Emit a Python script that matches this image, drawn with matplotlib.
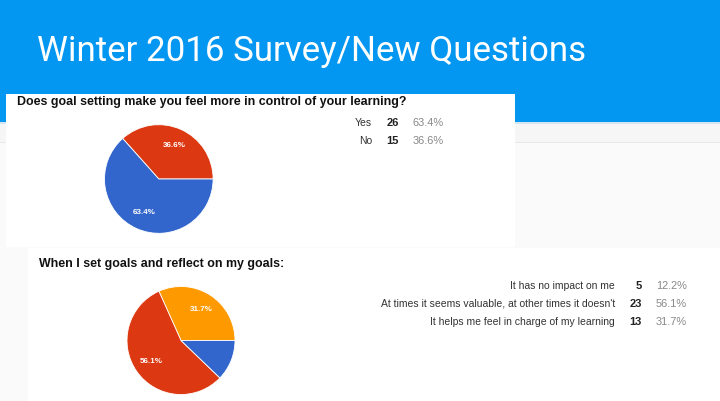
import matplotlib
matplotlib.use("Agg")
import matplotlib.pyplot as plt
from matplotlib.patches import Rectangle

# ---- data ----
title = "Winter 2016 Survey/New Questions"

q1_title = "Does goal setting make you feel more in control of your learning?"
q1_labels = ["Yes", "No"]
q1_counts = [26, 15]
q1_pcts = ["63.4%", "36.6%"]
q1_colors = ["#3366CC", "#DC3912"]

q2_title = "When I set goals and reflect on my goals:"
q2_labels = ["It has no impact on me",
             "At times it seems valuable, at other times it doesn't",
             "It helps me feel in charge of my learning"]
q2_counts = [5, 23, 13]
q2_pcts = ["12.2%", "56.1%", "31.7%"]
q2_colors = ["#3366CC", "#DC3912", "#FF9900"]

W, H = 720, 401
fig = plt.figure(figsize=(W / 100, H / 100), dpi=100)
bg = fig.add_axes([0, 0, 1, 1])
bg.set_xlim(0, W)
bg.set_ylim(H, 0)
bg.axis("off")

def rect(x0, y0, x1, y1, color, z=0):
    bg.add_patch(Rectangle((x0, y0), x1 - x0, y1 - y0, facecolor=color,
                           edgecolor="none", zorder=z))

# page background
rect(0, 0, W, H, "#fafafa", 0)
rect(0, 122, W, 142, "#f6f6f6", 1)
bg.plot([0, W], [142, 142], color="#e8e8e8", lw=0.7, zorder=1.5)
rect(0, 0, W, 122, "#0497F1", 2)
rect(0, 122, W, 123.5, "#d5e6f0", 1.8)
# panels
rect(6, 94, 515, 247, "white", 3)
rect(28, 248, W, H, "white", 3)

bg.text(37, 61, title, fontsize=25.1, color="white", family="Roboto",
        fontweight="normal", va="baseline", ha="left", zorder=5)

FF = ["Liberation Sans", "DejaVu Sans"]

bg.text(17, 101.5, q1_title, fontsize=8.9, fontweight="bold", family=FF,
        color="#111111", va="center", ha="left", zorder=5)
bg.text(39, 263.5, q2_title, fontsize=8.9, fontweight="bold", family=FF,
        color="#111111", va="center", ha="left", zorder=5)

def legend(labels, counts, pcts, xl, xc, xp, ys):
    for lab, c, p, y in zip(labels, counts, pcts, ys):
        bg.text(xl, y, lab, fontsize=7.5, family=FF, color="#333333",
                ha="right", va="center", zorder=5)
        bg.text(xc, y, str(c), fontsize=8.0, family=FF, color="#222222",
                fontweight="bold", ha="right", va="center", zorder=5)
        bg.text(xp, y, p, fontsize=7.9, family=FF, color="#888888",
                ha="right", va="center", zorder=5)

legend(q1_labels, q1_counts, q1_pcts, 372, 399, 444, [123, 141])
legend(q2_labels, q2_counts, q2_pcts, 615, 642, 687, [286, 304, 322])

def pie(cx, cy, r, counts, colors):
    ax = fig.add_axes([(cx - r) / W, (H - cy - r) / H, 2 * r / W, 2 * r / H])
    ax.pie(counts[::-1], colors=colors[::-1], startangle=0, counterclock=True,
           radius=1, autopct=lambda p: f"{p:.1f}%" if p > 15 else "",
           pctdistance=0.68,
           wedgeprops=dict(edgecolor="white", linewidth=0.6),
           textprops=dict(color="white", fontsize=5.8, fontweight="bold",
                          family=FF))
    ax.set_xlim(-1, 1)
    ax.set_ylim(-1, 1)
    ax.set_zorder(6)
    ax.axis("off")

pie(158.8, 179, 54.3, q1_counts, q1_colors)
pie(181, 340.5, 54, q2_counts, q2_colors)

fig.savefig("out.png", dpi=100)
